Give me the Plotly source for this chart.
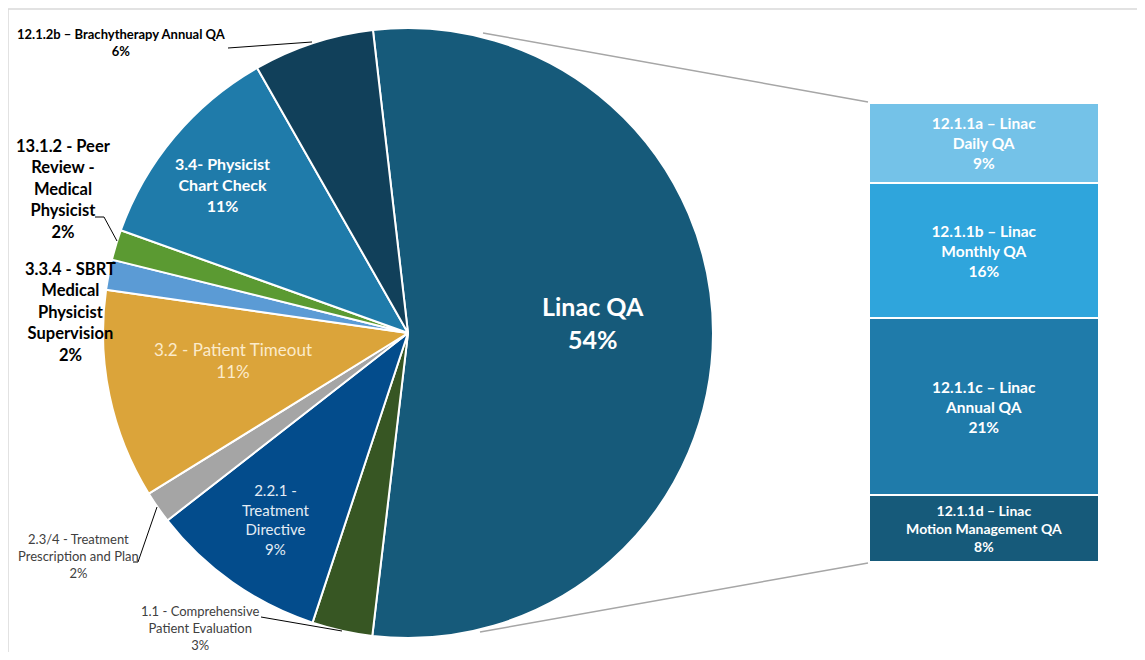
import plotly.graph_objects as go

# page body has an 8px margin, so the figure is sized to fit the window inside it
OFF = 8
W, H = 1145 - 2 * OFF, 660 - 2 * OFF

# ---- data ----
pie_labels = ["Linac QA", "1.1 - Comprehensive<br>Patient Evaluation", "2.2.1 -<br>Treatment<br>Directive",
              "2.3/4 - Treatment<br>Prescription and Plan", "3.2 - Patient Timeout",
              "3.3.4 - SBRT<br>Medical<br>Physicist<br>Supervision", "13.1.2 - Peer<br>Review -<br>Medical<br>Physicist",
              "3.4- Physicist<br>Chart Check", "12.1.2b – Brachytherapy Annual QA"]
pie_values = [53.7, 3.2, 9.4, 1.7, 11.1, 1.6, 1.6, 11.3, 6.4]
pie_colors = ["#165A7A", "#375623", "#034C8C", "#A5A5A5", "#DBA43A", "#5B9BD5", "#5B9A32", "#1F7BAA", "#11405A"]

bar_labels = ["12.1.1a – Linac<br>Daily QA", "12.1.1b – Linac<br>Monthly QA",
              "12.1.1c – Linac<br>Annual QA", "12.1.1d – Linac<br>Motion Management QA"]
bar_values = [9.4, 15.8, 20.7, 7.8]
bar_colors = ["#74C2E8", "#2FA5DC", "#1F7BAA", "#165A7A"]


def px(x):
    return (x - OFF) / W


def py(y):
    return 1 - (y - OFF) / H


FONT = "Lato"

fig = go.Figure()

fig.add_trace(go.Pie(
    labels=pie_labels, values=pie_values, sort=False, direction="clockwise",
    rotation=-6.6, marker=dict(colors=pie_colors, line=dict(color="white", width=2)),
    textinfo="none", hoverinfo="label+percent", showlegend=False,
    domain=dict(x=[px(103), px(713)], y=[py(638), py(28)]),
))

bar_sizes = [15.5, 15.5, 15.5, 14]
for lab, val, col, fs in zip(bar_labels, bar_values, bar_colors, bar_sizes):
    fig.add_trace(go.Bar(
        x=[0], y=[val], width=1, marker=dict(color=col, line=dict(color="white", width=2)),
        text=[f"<b>{lab}<br>{val:.0f}%</b>"], textposition="inside", insidetextanchor="middle",
        textangle=0, textfont=dict(color="white", size=fs, family=FONT),
        showlegend=False, hoverinfo="skip", cliponaxis=False,
    ))

fig.update_layout(
    width=W, height=H, margin=dict(l=0, r=0, t=0, b=0),
    paper_bgcolor="white", plot_bgcolor="white", barmode="stack",
    xaxis=dict(domain=[px(869), px(1099)], range=[-0.5, 0.5], visible=False),
    yaxis=dict(domain=[py(562), py(103)], range=[sum(bar_values), 0], visible=False),
    font=dict(family=FONT),
)

# pie labels: (index, x, y, color, size, bold)
pie_text_spec = [
    (0, 593, 322, "white", 25, True),
    (7, 222, 184, "white", 16, True),
    (4, 233, 360, "#FBEBCB", 17, False),
    (2, 276, 520, "#E4ECF5", 15, False),
    (8, 121, 42, "black", 13, True),
    (6, 63, 189, "black", 16.5, True),
    (5, 70, 312, "black", 16.5, True),
    (3, 78, 556, "#404040", 13, False),
    (1, 200, 628, "#404040", 13, False),
]
for i, x, y, c, s, b in pie_text_spec:
    t = f"{pie_labels[i]}<br>{pie_values[i]:.0f}%"
    if b:
        t = f"<b>{t}</b>"
    fig.add_annotation(x=px(x), y=py(y), xref="paper", yref="paper", text=t, showarrow=False,
                       font=dict(color=c, size=s, family=FONT), align="center",
                       xanchor="center", yanchor="middle")

shapes = []
# connectors to the bar
for (x0, y0, x1, y1) in [(483, 33, 868, 102), (480, 632, 868, 563)]:
    shapes.append(dict(type="line", xref="paper", yref="paper", x0=px(x0), y0=py(y0), x1=px(x1), y1=py(y1),
                       line=dict(color="#A6A6A6", width=1.5)))
# leader lines
leaders = [
    [(228, 48), (312, 42)],
    [(95, 217), (104, 217), (117, 241)],
    [(133, 562), (138, 562), (157, 507)],
    [(261, 617), (342, 631)],
]
for pts in leaders:
    for (a, b), (c, d) in zip(pts[:-1], pts[1:]):
        shapes.append(dict(type="line", xref="paper", yref="paper", x0=px(a), y0=py(b), x1=px(c), y1=py(d),
                           line=dict(color="black", width=1)))
# frame
shapes.append(dict(type="line", xref="paper", yref="paper", x0=px(7), y0=py(9), x1=1, y1=py(9),
                   line=dict(color="#D9D9D9", width=1.5)))
shapes.append(dict(type="line", xref="paper", yref="paper", x0=px(8), y0=py(9), x1=px(8), y1=0,
                   line=dict(color="#D9D9D9", width=1.5)))
fig.update_layout(shapes=shapes)

fig.write_html("out.html")
